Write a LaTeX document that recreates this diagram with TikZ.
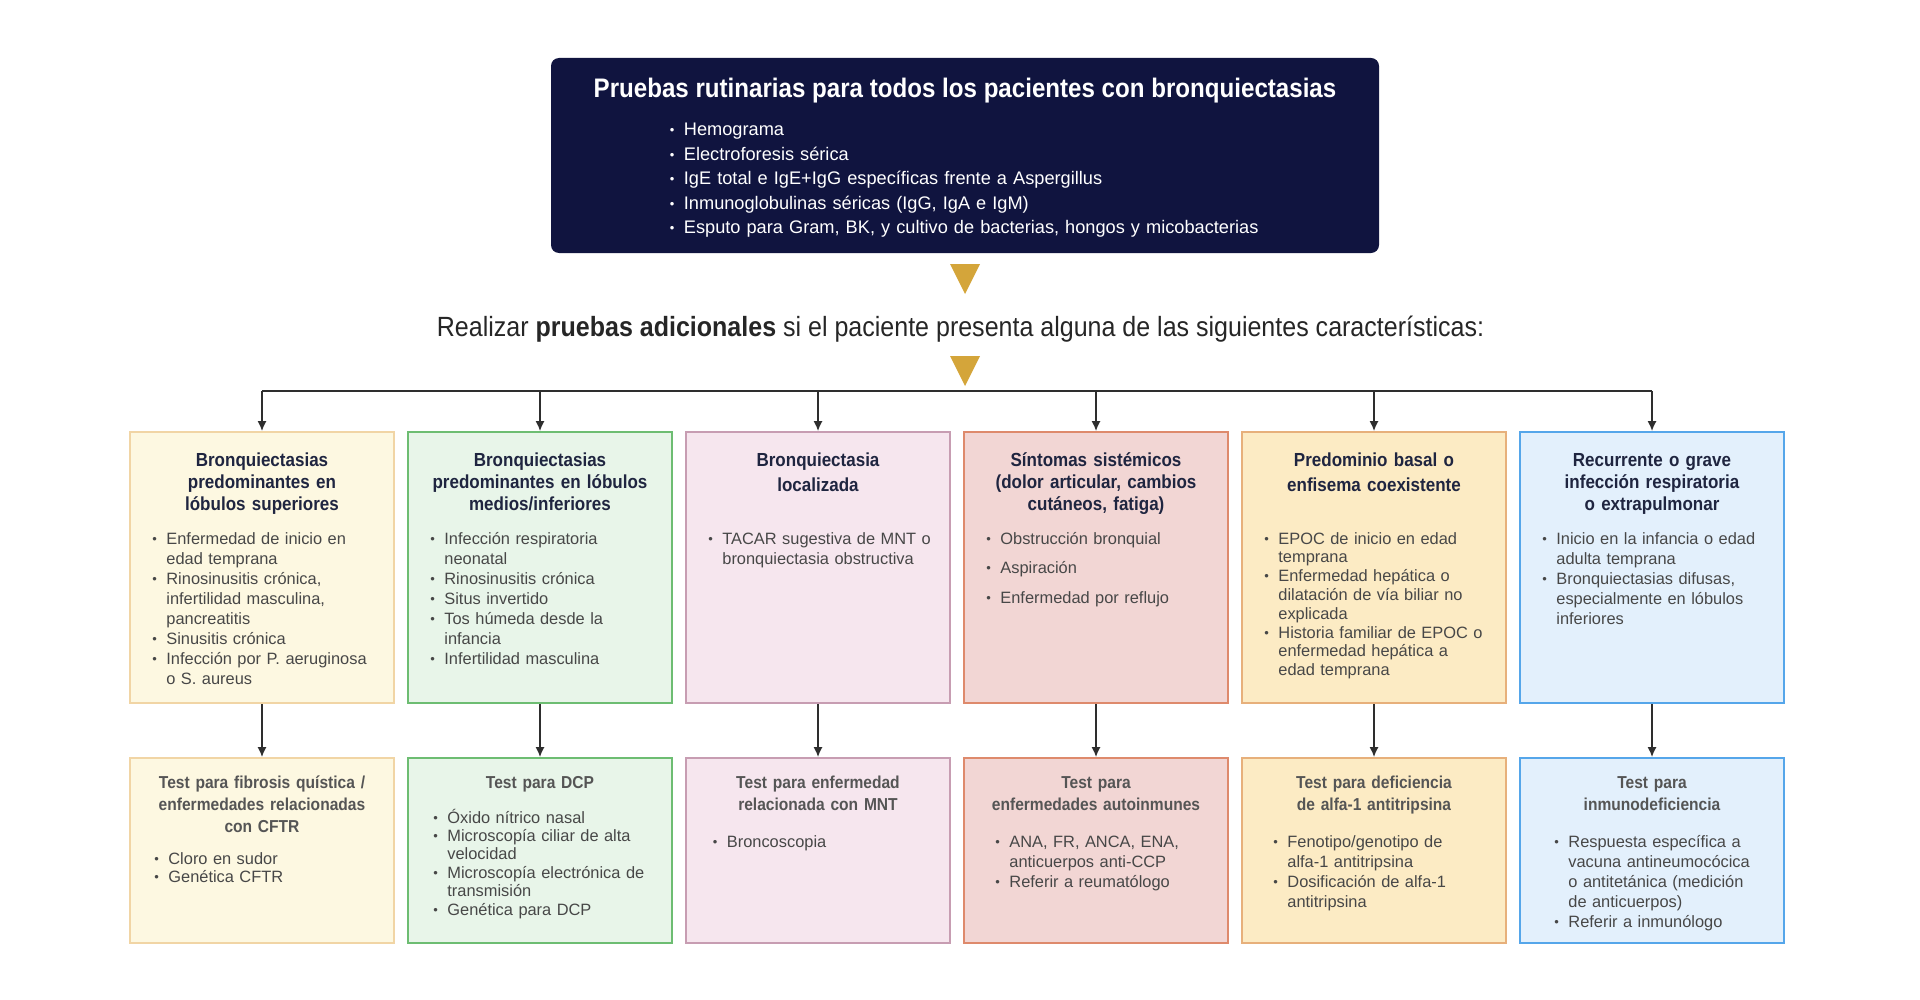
\documentclass[tikz,border=0pt]{standalone}
\usepackage{fontspec}
\setmainfont{Liberation Sans}
\newfontfamily\condfont{Liberation Sans}[FakeStretch=0.9]
\usetikzlibrary{arrows.meta}

\definecolor{navy}{HTML}{10143F}
\definecolor{gold}{HTML}{D4A53A}
\definecolor{linecol}{HTML}{2E2E2E}
\definecolor{headcol}{HTML}{1F2540}
\definecolor{testcol}{HTML}{555555}
\definecolor{bodycol}{HTML}{474747}
\definecolor{fillA}{HTML}{FDF8E1}\definecolor{drawA}{HTML}{F1D5A5}
\definecolor{fillB}{HTML}{E8F5E9}\definecolor{drawB}{HTML}{6DBD72}
\definecolor{fillC}{HTML}{F6E6EE}\definecolor{drawC}{HTML}{C79DB2}
\definecolor{fillD}{HTML}{F2D6D4}\definecolor{drawD}{HTML}{DE8A6C}
\definecolor{fillE}{HTML}{FCEBC4}\definecolor{drawE}{HTML}{E7B07B}
\definecolor{fillF}{HTML}{E3F0FC}\definecolor{drawF}{HTML}{55A6EA}

% bullet list: wrapped lines hang under the text
\newif\iffirstitm
\newcommand\itm{\iffirstitm\global\firstitmfalse\else\par\fi
  \hangindent=7pt\hangafter=1\noindent
  \makebox[7pt][l]{\raisebox{0.5pt}{\fontsize{6.5}{6.5}\selectfont\textbullet}}}
\newcommand\bulletlist[1]{\global\firstitmtrue#1\par}

\tikzset{
  catbox/.style={draw, line width=1pt, minimum width=132pt, minimum height=135.5pt, inner sep=0pt},
  testbox/.style={catbox, minimum height=92.5pt},
  headtxt/.style={anchor=base, inner sep=0pt, text width=130pt, align=center, text=headcol,
    font=\condfont\bfseries\fontsize{9.45}{11}\selectfont},
  testtxt/.style={headtxt, text=testcol, font=\condfont\bfseries\fontsize{8.65}{11}\selectfont},
  bullets/.style={anchor=base west, inner sep=0pt, align=left},
  listtxt/.style={bullets, text width=120pt, text=bodycol, font=\fontsize{8.2}{#1}\selectfont},
  listtxt/.default=10pt,
  link/.style={draw=linecol, line width=0.75pt, -{Latex[length=5pt,width=4.6pt]}},
}

\begin{document}
\begin{tikzpicture}[x=0.5pt, y=-0.5pt]
\useasboundingbox (0,0) rectangle (1920,1000);
\fill[white] (0,0) rectangle (1920,1000);

% routine tests
\node[fill=navy, rounded corners=4pt, minimum width=414pt, minimum height=97.5pt] (top) at (965,155.5) {};
\node[anchor=base, inner sep=0pt, text=white, font=\condfont\bfseries\fontsize{13.4}{16}\selectfont]
  (toptitle) at (965,98) {Pruebas rutinarias para todos los pacientes con bronquiectasias};
\node[bullets, text width=340pt, text=white, font=\fontsize{9.1}{12.3}\selectfont]
  (toplist) at (669.5,135.5) {\bulletlist{%
  \itm Hemograma
  \itm Electroforesis sérica
  \itm IgE total e IgE+IgG específicas frente a Aspergillus
  \itm Inmunoglobulinas séricas (IgG, IgA e IgM)
  \itm Esputo para Gram, BK, y cultivo de bacterias, hongos y micobacterias}};

\coordinate (tri1) at (965,264);
\fill[gold] (tri1) ++(-15,0) -- ++(30,0) -- ++(-15,30) -- cycle;
\node[anchor=base, inner sep=0pt, text=black!85, font=\condfont\fontsize{13.9}{16}\selectfont]
  (extra) at (960.5,336) {Realizar \textbf{pruebas adicionales} si el paciente presenta alguna de las siguientes características:};
\coordinate (tri2) at (965,356);
\fill[gold] (tri2) ++(-15,0) -- ++(30,0) -- ++(-15,30) -- cycle;

% boxes and connectors
\foreach \i/\x/\f/\d in {1/262/fillA/drawA, 2/540/fillB/drawB, 3/818/fillC/drawC,
                         4/1096/fillD/drawD, 5/1374/fillE/drawE, 6/1652/fillF/drawF} {
  \node[catbox, fill=\f, draw=\d] (cat\i) at (\x,567.5) {};
  \node[testbox, fill=\f, draw=\d] (test\i) at (\x,850.5) {};
  \coordinate (bus\i) at (\x,391);
  \draw[link] (bus\i) -- (cat\i);
  \draw[link] (cat\i) -- (test\i);
}
\draw[draw=linecol, line width=1.2pt] (bus1) -- (bus6);

% features
\node[headtxt] (cat1h) at (262,466) {Bronquiectasias\\predominantes en\\lóbulos superiores};
\node[listtxt] (cat1l) at (152,544) {\bulletlist{%
  \itm Enfermedad de inicio en\newline edad temprana
  \itm Rinosinusitis crónica,\newline infertilidad masculina,\newline pancreatitis
  \itm Sinusitis crónica
  \itm Infección por P. aeruginosa\newline o S. aureus}};

\node[headtxt] (cat2h) at (540,466) {Bronquiectasias\\predominantes en lóbulos\\medios/inferiores};
\node[listtxt] (cat2l) at (430,544) {\bulletlist{%
  \itm Infección respiratoria\newline neonatal
  \itm Rinosinusitis crónica
  \itm Situs invertido
  \itm Tos húmeda desde la\newline infancia
  \itm Infertilidad masculina}};

\node[headtxt] (cat3h) at (818,466) {Bronquiectasia\\[1.5pt]localizada};
\node[listtxt] (cat3l) at (708,544) {\bulletlist{%
  \itm TACAR sugestiva de MNT o\newline bronquiectasia obstructiva}};

\node[headtxt] (cat4h) at (1096,466) {Síntomas sistémicos\\(dolor articular, cambios\\cutáneos, fatiga)};
\node[listtxt=14.75pt] (cat4l) at (986,544) {\bulletlist{%
  \itm Obstrucción bronquial
  \itm Aspiración
  \itm Enfermedad por reflujo}};

\node[headtxt] (cat5h) at (1374,466) {Predominio basal o\\[1.5pt]enfisema coexistente};
\node[listtxt=9.4pt] (cat5l) at (1264,544) {\bulletlist{%
  \itm EPOC de inicio en edad\newline temprana
  \itm Enfermedad hepática o\newline dilatación de vía biliar no\newline explicada
  \itm Historia familiar de EPOC o\newline enfermedad hepática a\newline edad temprana}};

\node[headtxt] (cat6h) at (1652,466) {Recurrente o grave\\infección respiratoria\\o extrapulmonar};
\node[listtxt] (cat6l) at (1542,544) {\bulletlist{%
  \itm Inicio en la infancia o edad\newline adulta temprana
  \itm Bronquiectasias difusas,\newline especialmente en lóbulos\newline inferiores}};

% tests
\node[testtxt] (test1h) at (262,788) {Test para fibrosis quística /\\enfermedades relacionadas\\con CFTR};
\node[listtxt=9.2pt] (test1l) at (154,864) {\bulletlist{%
  \itm Cloro en sudor
  \itm Genética CFTR}};

\node[testtxt] (test2h) at (540,788) {Test para DCP};
\node[listtxt=9.2pt] (test2l) at (433,823) {\bulletlist{%
  \itm Óxido nítrico nasal
  \itm Microscopía ciliar de alta\newline velocidad
  \itm Microscopía electrónica de\newline transmisión
  \itm Genética para DCP}};

\node[testtxt] (test3h) at (818,788) {Test para enfermedad\\relacionada con MNT};
\node[listtxt] (test3l) at (712.5,847) {\bulletlist{%
  \itm Broncoscopia}};

\node[testtxt] (test4h) at (1096,788) {Test para\\enfermedades autoinmunes};
\node[listtxt] (test4l) at (995,847) {\bulletlist{%
  \itm ANA, FR, ANCA, ENA,\newline anticuerpos anti-CCP
  \itm Referir a reumatólogo}};

\node[testtxt] (test5h) at (1374,788) {Test para deficiencia\\de alfa-1 antitripsina};
\node[listtxt] (test5l) at (1273,847) {\bulletlist{%
  \itm Fenotipo/genotipo de\newline alfa-1 antitripsina
  \itm Dosificación de alfa-1\newline antitripsina}};

\node[testtxt] (test6h) at (1652,788) {Test para\\inmunodeficiencia};
\node[listtxt] (test6l) at (1554,847) {\bulletlist{%
  \itm Respuesta específica a\newline vacuna antineumocócica\newline o antitetánica (medición\newline de anticuerpos)
  \itm Referir a inmunólogo}};
\end{tikzpicture}
\end{document}
